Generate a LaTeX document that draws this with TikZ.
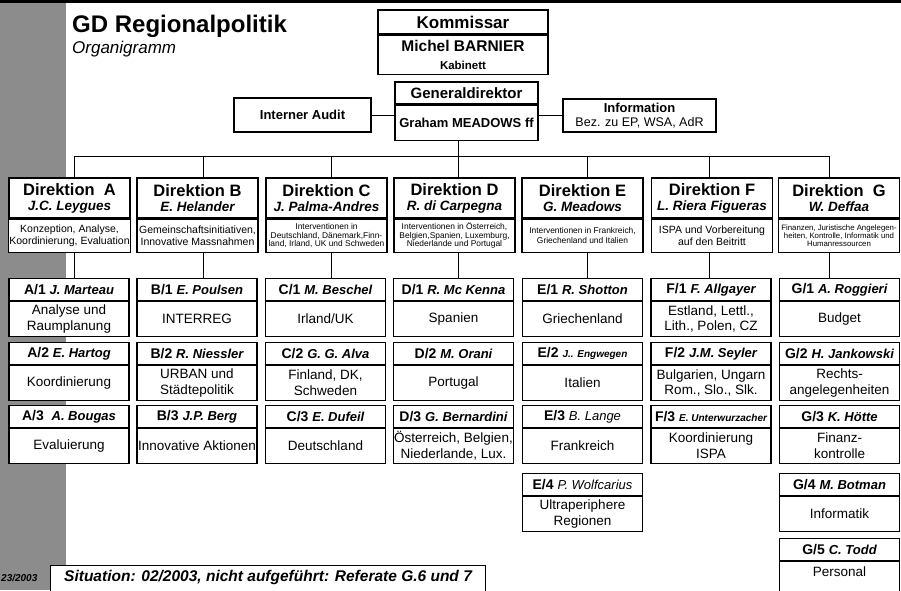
\documentclass[tikz,border=0pt]{standalone}
\usepackage{fontspec}
\setmainfont{Liberation Sans}
\newcommand{\pn}[1]{{\fontsize{13}{14}\selectfont\bfseries\itshape #1}}
\newcommand{\pnr}[1]{{\fontsize{13}{14}\selectfont\mdseries\itshape #1}}
\newcommand{\pns}[1]{{\fontsize{10}{12}\selectfont\bfseries\itshape #1}}
\newcommand{\orgunit}[6]{%
  \node[uhead, anchor=north] (#1h) at (#2,#3) {#4 #5};
  \node[ubody, anchor=north] (#1b) at (#1h.south) {#6};}
\tikzset{
  box/.style={draw, line width=1.1pt, fill=white, inner sep=1pt, align=center},
  uhead/.style={box, minimum width=120pt, minimum height=22pt, font=\fontsize{14}{15}\selectfont\bfseries},
  ubody/.style={box, minimum width=120pt, minimum height=34.5pt, font=\fontsize{13.5}{15.8}\selectfont},
  dhead/.style={box, minimum width=121pt, minimum height=40pt, font=\fontsize{16.5}{16}\selectfont\bfseries},
  ddesc/.style={box, anchor=north, minimum width=121pt, minimum height=33pt, font=\fontsize{10.5}{12}\selectfont},
  dsmall/.style={font=\fontsize{8.4}{8.7}\selectfont},
  link/.style={line width=0.9pt},
}
\begin{document}
\begin{tikzpicture}[x=1pt,y=-1pt]
\useasboundingbox (0,0) rectangle (901,590);
% left grey band and top rule
\fill[black!45] (0,0) rectangle (66,590);
\fill[black] (0,0) rectangle (901,2.5);

% title
\node[anchor=base west, inner sep=0, font=\fontsize{24}{26}\selectfont\bfseries] (title) at (72,32) {GD Regionalpolitik};
\node[anchor=base west, inner sep=0, font=\fontsize{17}{19}\selectfont\itshape] (subtitle) at (72,53) {Organigramm};

% Kommissar
\node[box, minimum width=170pt, minimum height=24pt, font=\fontsize{17}{18}\selectfont\bfseries] (komh) at (463,22) {Kommissar};
\node[box, anchor=north, minimum width=170pt, minimum height=39pt, font=\fontsize{15.5}{18}\selectfont\bfseries] (komb) at (komh.south) {Michel BARNIER\\{\fontsize{11.5}{13}\selectfont Kabinett}};

% Generaldirektor
\node[box, minimum width=143pt, minimum height=22pt, font=\fontsize{15}{16}\selectfont\bfseries] (gdh) at (466.5,93) {Generaldirektor};
\node[box, anchor=north, minimum width=143pt, minimum height=35pt, font=\fontsize{13}{14}\selectfont\bfseries] (gdb) at (gdh.south) {Graham MEADOWS ff};

\node[box, minimum width=137pt, minimum height=34pt, font=\fontsize{13}{14}\selectfont\bfseries] (audit) at (302.5,115) {Interner Audit};
\node[box, minimum width=153pt, minimum height=33pt, font=\fontsize{13}{14}\selectfont\bfseries] (info) at (639.5,115.5) {Information\\{\fontsize{12.5}{13}\selectfont\mdseries Bez. zu EP, WSA, AdR}};

\draw[link] (audit.east) -- (audit.east -| gdb.west);
\draw[link] (info.west) -- (info.west -| gdb.east);

% bus coordinates
\coordinate (cA) at (74,156);
\coordinate (cB) at (203,156);
\coordinate (cC) at (331,156);
\coordinate (cD) at (458,156);
\coordinate (cE) at (587,156);
\coordinate (cF) at (709,156);
\coordinate (cG) at (829,156);

% Direktionen
\node[dhead] (dAh) at (69.5,198) {Direktion\ \ A\\[-1pt]{\fontsize{13.5}{14}\selectfont\itshape J.C. Leygues}};
\node[dhead] (dBh) at (197.5,198) {Direktion B\\[-1pt]{\fontsize{13.5}{14}\selectfont\itshape E. Helander}};
\node[dhead] (dCh) at (326.5,198) {Direktion C\\[-1pt]{\fontsize{13.5}{14}\selectfont\itshape J. Palma-Andres}};
\node[dhead] (dDh) at (454.5,198) {Direktion D\\[-1pt]{\fontsize{13.5}{14}\selectfont\itshape R. di Carpegna}};
\node[dhead] (dEh) at (582.5,198) {Direktion E\\[-1pt]{\fontsize{13.5}{14}\selectfont\itshape G. Meadows}};
\node[dhead] (dFh) at (712,198) {Direktion F\\[-1pt]{\fontsize{13.5}{14}\selectfont\itshape L. Riera Figueras}};
\node[dhead] (dGh) at (839,198) {Direktion\ \ G\\[-1pt]{\fontsize{13.5}{14}\selectfont\itshape W. Deffaa}};

\node[ddesc] (dAd) at (dAh.south) {Konzeption, Analyse,\\Koordinierung, Evaluation};
\node[ddesc] (dBd) at (dBh.south) {Gemeinschaftsinitiativen,\\Innovative Massnahmen};
\node[ddesc, dsmall] (dCd) at (dCh.south) {Interventionen in\\Deutschland, Dänemark,Finn-\\land, Irland, UK und Schweden};
\node[ddesc, dsmall] (dDd) at (dDh.south) {Interventionen in Österreich,\\Belgien,Spanien, Luxemburg,\\Niederlande und Portugal};
\node[ddesc, font=\fontsize{8.4}{10.5}\selectfont] (dEd) at (dEh.south) {Interventionen in Frankreich,\\Griechenland und Italien};
\node[ddesc] (dFd) at (dFh.south) {ISPA und Vorbereitung\\auf den Beitritt};
\node[ddesc, font=\fontsize{7.8}{8.3}\selectfont] (dGd) at (dGh.south) {Finanzen, Juristische Angelegen-\\heiten, Kontrolle, Informatik und\\Humanressourcen};

% units row 1
\orgunit{A1}{69}{278}{A/1}{\pn{J. Marteau}}{Analyse und\\Raumplanung}
\orgunit{B1}{197}{278}{B/1}{\pn{E. Poulsen}}{INTERREG}
\orgunit{C1}{325.5}{278}{C/1}{\pn{M. Beschel}}{Irland/UK}
\orgunit{D1}{453.5}{278}{D/1}{\pn{R. Mc Kenna}}{Spanien}
\orgunit{E1}{582.5}{278}{E/1}{\pn{R. Shotton}}{Griechenland}
\orgunit{F1}{711}{278}{F/1}{\pn{F. Allgayer}}{Estland, Lettl.,\\Lith., Polen, CZ}
\orgunit{G1}{839.5}{278}{G/1}{\pn{A. Roggieri}}{Budget}
% row 2
\orgunit{A2}{69}{342}{A/2}{\pn{E. Hartog}}{Koordinierung}
\orgunit{B2}{197}{342}{B/2}{\pn{R. Niessler}}{URBAN und\\Städtepolitik}
\orgunit{C2}{325.5}{342}{C/2}{\pn{G. G. Alva}}{Finland, DK,\\Schweden}
\orgunit{D2}{453.5}{342}{D/2}{\pn{M. Orani}}{Portugal}
\orgunit{E2}{582.5}{342}{E/2}{\pns{J.. Engwegen}}{Italien}
\orgunit{F2}{711}{342}{F/2}{\pn{J.M. Seyler}}{Bulgarien, Ungarn\\Rom., Slo., Slk.}
\orgunit{G2}{839.5}{342}{G/2}{\pn{H. Jankowski}}{Rechts-\\angelegenheiten}
% row 3
\orgunit{A3}{69}{405}{A/3}{\ \pn{A. Bougas}}{Evaluierung}
\orgunit{B3}{197}{405}{B/3}{\pn{J.P. Berg}}{Innovative Aktionen}
\orgunit{C3}{325.5}{405}{C/3}{\pn{E. Dufeil}}{Deutschland}
\orgunit{D3}{453.5}{405}{D/3}{\pn{G. Bernardini}}{Österreich, Belgien,\\Niederlande, Lux.}
\orgunit{E3}{582.5}{405}{E/3}{\pnr{B. Lange}}{Frankreich}
\orgunit{F3}{711}{405}{F/3}{\pns{E. Unterwurzacher}}{Koordinierung\\ISPA}
\orgunit{G3}{839.5}{405}{G/3}{\pn{K. Hötte}}{Finanz-\\kontrolle}
% row 4
\orgunit{E4}{582.5}{473}{E/4}{\pnr{P. Wolfcarius}}{Ultraperiphere\\Regionen}
\orgunit{G4}{839.5}{473}{G/4}{\pn{M. Botman}}{Informatik}
% row 5
\node[uhead, anchor=north] (G5h) at (839.5,538) {G/5 \pn{C. Todd}};
\node[ubody, anchor=north, minimum height=44pt] (G5b) at (G5h.south) {Personal\\[8pt]};

% connectors
\draw[link] (gdb.south -| cD) -- (cD);
\draw[link] (cA) -- (cG);
\foreach \c in {A,B,C,D,E,F,G}{
  \draw[link] (c\c) -- (c\c |- d\c h.north);
  \draw[link] (c\c |- d\c d.south) -- (c\c |- \c1h.north);
}

% footer
\node[box, anchor=north west, minimum width=435pt, minimum height=28pt, text depth=7pt, font=\fontsize{15.5}{16}\selectfont\bfseries\itshape] (sit) at (50,565) {Situation: 02/2003, nicht aufgeführt: Referate G.6 und 7};
\node[anchor=west, inner sep=0, font=\fontsize{10}{12}\selectfont\bfseries\itshape] (date) at (1,578) {23/2003};
\end{tikzpicture}
\end{document}
